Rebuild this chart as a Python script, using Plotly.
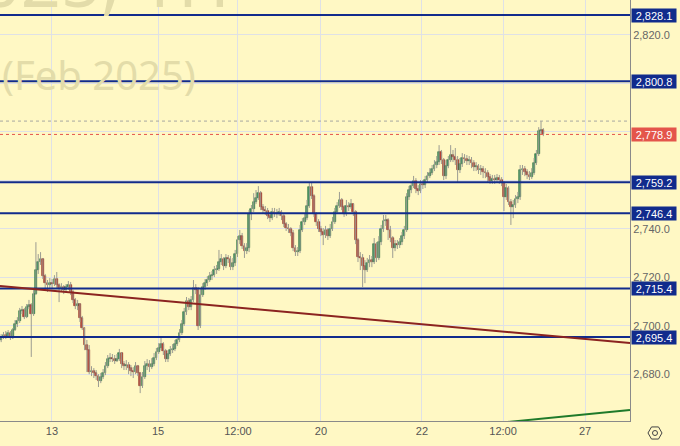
import math
import plotly.graph_objects as go

# ---------------- data (hourly bars) ----------------
first_open = 2694.2
close = [
    2695.4, 2696.2, 2695.8, 2697.0, 2695.0, 2698.3, 2700.8, 2702.0, 2706.1, 2706.5,
    2703.6, 2707.8, 2708.6, 2704.9, 2713.1, 2723.0, 2726.3, 2727.5, 2720.5, 2717.6,
    2716.8, 2717.6, 2717.2, 2719.3, 2716.8, 2715.6, 2716.0, 2714.8, 2716.0, 2716.8,
    2714.0, 2710.7, 2708.2, 2709.0, 2703.2, 2699.1, 2692.1, 2690.0, 2681.0, 2681.4,
    2680.6, 2679.3, 2677.3, 2678.9, 2680.6, 2683.4, 2686.3, 2686.7, 2686.3, 2685.5,
    2686.3, 2688.8, 2684.3, 2683.4, 2683.9, 2682.6, 2681.4, 2681.0, 2683.4, 2680.6,
    2675.2, 2678.9, 2683.4, 2684.3, 2683.0, 2684.3, 2686.7, 2689.2, 2690.9, 2692.5,
    2689.6, 2686.3, 2688.4, 2690.0, 2690.5, 2692.5, 2694.2, 2697.0, 2700.8, 2705.7,
    2710.2, 2707.8, 2710.7, 2715.6, 2714.8, 2699.9, 2712.7, 2716.0, 2717.6, 2718.9,
    2720.5, 2720.9, 2723.0, 2723.4, 2726.3, 2727.5, 2724.7, 2727.9, 2727.5, 2724.2,
    2725.9, 2729.6, 2735.4, 2737.0, 2732.9, 2730.8, 2732.1, 2746.1, 2748.2, 2751.0,
    2752.7, 2754.7, 2749.0, 2747.7, 2747.3, 2745.3, 2744.4, 2746.9, 2746.5, 2746.1,
    2746.9, 2745.3, 2742.0, 2740.3, 2739.9, 2738.3, 2732.1, 2730.4, 2730.8, 2739.5,
    2742.8, 2744.4, 2749.4, 2757.2, 2753.5, 2746.1, 2742.8, 2739.9, 2738.7, 2737.4,
    2739.5, 2737.0, 2739.9, 2742.8, 2746.9, 2749.4, 2751.9, 2749.0, 2746.1, 2749.4,
    2749.0, 2750.2, 2746.9, 2735.4, 2728.4, 2727.9, 2724.7, 2723.0, 2725.9, 2727.1,
    2726.3, 2733.7, 2727.9, 2734.5, 2739.9, 2743.2, 2743.6, 2739.5, 2736.2, 2732.1,
    2733.7, 2733.3, 2734.5, 2737.0, 2739.5, 2753.1, 2756.0, 2757.6, 2759.7, 2756.4,
    2755.6, 2758.5, 2758.0, 2760.1, 2761.7, 2763.0, 2764.6, 2766.3, 2767.5, 2771.6,
    2768.3, 2761.7, 2765.9, 2768.3, 2770.4, 2769.6, 2768.3, 2764.2, 2766.7, 2769.2,
    2768.8, 2767.9, 2768.3, 2767.1, 2765.5, 2765.9, 2764.2, 2764.6, 2763.4, 2763.0,
    2761.3, 2759.7, 2760.5, 2760.1, 2760.9, 2760.1, 2758.9, 2753.1, 2756.8, 2751.0,
    2749.0, 2749.8, 2752.3, 2753.1, 2764.2, 2764.6, 2763.4, 2762.2, 2761.3, 2763.0,
    2767.1, 2770.8, 2780.3, 2780.7, 2778.9,
]
high = [
    2696.6, 2697.5, 2697.9, 2698.3, 2697.9, 2699.1, 2702.4, 2703.6, 2707.4, 2708.2,
    2707.4, 2709.0, 2710.7, 2709.4, 2714.8, 2734.5, 2729.6, 2730.4, 2728.0, 2721.4,
    2718.9, 2719.7, 2719.3, 2720.9, 2722.2, 2717.6, 2717.6, 2716.8, 2717.2, 2718.5,
    2718.1, 2714.8, 2711.5, 2710.7, 2709.4, 2704.1, 2699.5, 2694.2, 2692.1, 2683.4,
    2682.6, 2681.8, 2680.1, 2680.6, 2682.2, 2685.1, 2688.0, 2688.8, 2688.4, 2688.0,
    2688.4, 2690.5, 2689.2, 2685.5, 2685.9, 2685.1, 2683.9, 2683.0, 2685.1, 2683.9,
    2681.0, 2681.0, 2685.5, 2686.3, 2685.9, 2686.7, 2688.8, 2690.9, 2692.9, 2695.0,
    2693.3, 2690.5, 2690.0, 2691.7, 2692.5, 2694.2, 2695.8, 2698.7, 2702.4, 2707.4,
    2711.9, 2711.5, 2712.3, 2718.9, 2717.2, 2716.0, 2715.2, 2717.6, 2719.3, 2720.5,
    2722.2, 2722.6, 2724.7, 2725.1, 2731.3, 2729.6, 2728.3, 2729.6, 2729.2, 2728.8,
    2728.0, 2731.3, 2737.0, 2739.5, 2738.3, 2734.1, 2734.1, 2747.7, 2749.8, 2754.7,
    2756.0, 2757.6, 2755.6, 2750.2, 2749.4, 2748.6, 2746.9, 2748.6, 2748.6, 2748.2,
    2748.6, 2747.7, 2746.1, 2742.8, 2742.0, 2740.7, 2739.5, 2733.3, 2732.5, 2741.6,
    2744.4, 2746.5, 2751.9, 2758.9, 2758.9, 2754.3, 2746.9, 2744.0, 2741.2, 2740.3,
    2741.2, 2740.3, 2742.0, 2744.9, 2748.6, 2751.0, 2755.2, 2752.7, 2749.8, 2751.9,
    2751.0, 2752.3, 2750.6, 2747.7, 2736.2, 2730.4, 2729.6, 2727.1, 2728.0, 2729.2,
    2728.8, 2736.2, 2734.5, 2737.0, 2741.6, 2745.7, 2745.7, 2744.4, 2741.2, 2737.0,
    2735.4, 2735.4, 2736.2, 2738.7, 2741.2, 2754.7, 2757.6, 2759.3, 2761.8, 2760.9,
    2758.0, 2760.1, 2760.1, 2761.8, 2763.4, 2765.0, 2766.3, 2768.3, 2770.0, 2774.5,
    2772.5, 2769.2, 2768.3, 2770.0, 2774.5, 2772.5, 2773.3, 2770.0, 2769.2, 2771.2,
    2770.8, 2770.4, 2770.0, 2769.6, 2768.3, 2767.5, 2766.7, 2766.3, 2765.9, 2765.0,
    2764.2, 2762.6, 2762.2, 2762.2, 2762.6, 2762.2, 2761.3, 2759.7, 2758.5, 2757.6,
    2752.3, 2751.9, 2753.9, 2755.2, 2766.3, 2766.3, 2765.9, 2764.6, 2763.8, 2765.0,
    2769.2, 2772.5, 2781.9, 2784.4, 2781.5,
]
low = [
    2693.3, 2694.6, 2694.6, 2695.4, 2694.2, 2694.6, 2697.9, 2699.5, 2701.2, 2704.9,
    2702.8, 2703.2, 2706.9, 2687.2, 2704.1, 2712.7, 2721.4, 2725.1, 2719.3, 2714.8,
    2714.0, 2715.2, 2715.6, 2716.4, 2715.6, 2709.8, 2714.0, 2713.1, 2714.0, 2714.8,
    2712.7, 2709.4, 2706.9, 2706.5, 2701.6, 2698.3, 2690.0, 2681.0, 2680.1, 2679.3,
    2678.5, 2677.7, 2674.8, 2676.4, 2678.1, 2679.7, 2682.6, 2685.1, 2685.1, 2684.3,
    2685.1, 2685.5, 2682.6, 2681.8, 2681.8, 2680.1, 2679.3, 2678.5, 2680.1, 2679.3,
    2672.3, 2674.4, 2678.1, 2681.8, 2681.0, 2682.2, 2683.4, 2685.9, 2688.4, 2690.0,
    2688.0, 2685.1, 2685.1, 2687.6, 2688.8, 2689.6, 2691.7, 2693.3, 2696.2, 2700.0,
    2704.5, 2706.5, 2706.5, 2709.8, 2713.1, 2698.3, 2699.1, 2711.9, 2714.8, 2716.4,
    2718.1, 2718.9, 2720.1, 2721.4, 2722.6, 2725.1, 2723.0, 2723.8, 2725.9, 2723.0,
    2723.0, 2724.7, 2728.4, 2733.7, 2731.7, 2728.0, 2729.6, 2730.4, 2743.6, 2746.9,
    2750.2, 2751.9, 2747.7, 2746.1, 2745.7, 2744.0, 2742.8, 2743.6, 2744.9, 2744.4,
    2745.3, 2743.6, 2740.7, 2739.1, 2738.3, 2737.0, 2730.8, 2728.8, 2728.8, 2730.0,
    2738.7, 2741.6, 2743.6, 2748.6, 2752.3, 2744.9, 2741.2, 2738.7, 2737.0, 2733.3,
    2736.2, 2735.4, 2736.2, 2739.1, 2742.0, 2746.1, 2748.6, 2747.7, 2744.9, 2745.3,
    2747.3, 2748.2, 2745.3, 2733.7, 2726.3, 2723.0, 2716.0, 2717.6, 2722.2, 2724.2,
    2724.2, 2725.5, 2726.3, 2727.1, 2733.3, 2738.7, 2741.2, 2735.4, 2734.5, 2728.0,
    2730.8, 2731.7, 2732.1, 2733.3, 2735.8, 2738.7, 2751.9, 2754.7, 2756.8, 2754.7,
    2753.9, 2754.7, 2756.4, 2756.8, 2759.3, 2760.9, 2762.2, 2763.8, 2765.0, 2766.3,
    2766.7, 2760.1, 2760.5, 2765.0, 2767.5, 2767.5, 2766.3, 2759.3, 2763.0, 2765.5,
    2767.1, 2766.3, 2766.3, 2765.0, 2763.8, 2763.8, 2762.6, 2762.2, 2760.9, 2760.9,
    2759.3, 2758.5, 2758.5, 2758.5, 2758.9, 2758.5, 2757.6, 2747.3, 2751.9, 2749.8,
    2741.6, 2744.4, 2748.6, 2750.6, 2751.9, 2762.2, 2761.7, 2760.5, 2760.1, 2760.5,
    2762.2, 2766.3, 2770.0, 2778.7, 2778.2,
]

levels = [2828.1, 2800.8, 2759.2, 2746.4, 2715.4, 2695.4]
last_price = 2778.9
session_high = 2784.4
red_trend = [2716.4, 2692.9]     # price at left / right edge of the pane
green_trend = [2659.6, 2665.3]   # price at its start / right edge

x_tick_text = ["13", "15", "12:00", "20", "22", "12:00", "27"]
x_tick_pos = [21.9, 67.7, 102.2, 138.0, 181.6, 216.6, 252.0]
y_grid = [2680, 2700, 2720, 2740, 2760, 2780, 2800, 2820]
y_labelled = [2680, 2700, 2720, 2740, 2820]   # others are hidden behind price tags

title_line1 = "GCG2025, 1H"
title_line2 = "(Feb 2025)"

# ---------------- styling ----------------
BG = "#fff8c4"
GRID = "#dfe1e6"
NAVY = "#112b8c"
RED_LBL = "#e4554b"
FONT = "Noto Sans"
LBL_FONT = "Liberation Sans"
X_MIN, X_MAX = -0.5, 271.4
Y_MIN, Y_MAX = 2660.8, 2834.3
GREEN_START = 210

n = min(len(close), len(high), len(low))
idx = list(range(n))
opens = [first_open] + close[:n - 1]
hi = [max(high[i], opens[i], close[i]) for i in idx]
lo = [min(low[i], opens[i], close[i]) for i in idx]

fig = go.Figure()

# wicks
wx, wy = [], []
for i in idx:
    wx += [i, i, None]
    wy += [lo[i], hi[i], None]
fig.add_trace(go.Scatter(x=wx, y=wy, mode="lines",
                         line=dict(color="#9c9c92", width=1),
                         hoverinfo="skip", showlegend=False))

# bodies
base = [min(opens[i], close[i]) for i in idx]
height = [max(abs(close[i] - opens[i]), 0.25) for i in idx]
up = [close[i] >= opens[i] for i in idx]
fig.add_trace(go.Bar(
    x=idx, y=height, base=base, width=0.78,
    marker=dict(color=["#3a955e" if u else "#c4392c" for u in up],
                line=dict(color=["#1b6234" if u else "#7d1d14" for u in up], width=0.6)),
    showlegend=False, hoverinfo="skip"))

shapes = []
shapes.append(dict(type="line", xref="x", yref="y", x0=X_MIN, x1=X_MAX,
                   y0=session_high, y1=session_high,
                   line=dict(color="#a8a8a0", width=1, dash="dot")))
shapes.append(dict(type="line", xref="x", yref="y", x0=X_MIN, x1=X_MAX,
                   y0=last_price, y1=last_price,
                   line=dict(color="#e4554b", width=1, dash="dot")))
for v in levels:
    shapes.append(dict(type="line", xref="x", yref="y", x0=X_MIN, x1=X_MAX,
                       y0=v, y1=v, line=dict(color=NAVY, width=2)))
shapes.append(dict(type="line", xref="x", yref="y", x0=X_MIN, x1=X_MAX,
                   y0=red_trend[0], y1=red_trend[1],
                   line=dict(color="#8b2320", width=2)))
shapes.append(dict(type="line", xref="x", yref="y", x0=GREEN_START, x1=X_MAX,
                   y0=green_trend[0], y1=green_trend[1],
                   line=dict(color="#1f7a2a", width=2)))

# settings (gear) icon in the bottom-right corner
cx, cy, r = 655 / 630, (421 - 433) / 421, 7
pts = []
for k in range(6):
    a = math.radians(60 * k)
    pts.append((cx + r * math.cos(a) / 630, cy + r * math.sin(a) / 421))
path = "M " + " L ".join(f"{px:.5f},{py:.5f}" for px, py in pts) + " Z"
shapes.append(dict(type="path", xref="paper", yref="paper", path=path,
                   line=dict(color="#444", width=1)))
shapes.append(dict(type="circle", xref="paper", yref="paper",
                   x0=cx - 2.5 / 630, x1=cx + 2.5 / 630,
                   y0=cy - 2.5 / 421, y1=cy + 2.5 / 421,
                   line=dict(color="#444", width=1)))

annotations = []
annotations.append(dict(text=title_line1, xref="paper", yref="paper",
                        x=232 / 630, y=(421 - 30) / 421, xanchor="right", yanchor="bottom",
                        showarrow=False, font=dict(family=FONT, size=70, color="#e3dca9")))
annotations.append(dict(text=title_line2, xref="paper", yref="paper",
                        x=0, y=(421 - 74) / 421, xanchor="left", yanchor="middle",
                        showarrow=False, font=dict(family=FONT, size=40, color="#e3dca9")))
for v in levels:
    annotations.append(dict(text=f"{v:,.1f}", xref="paper", yref="y", x=1, y=v,
                            xanchor="left", yanchor="middle", xshift=1, showarrow=False,
                            bgcolor=NAVY, width=44, height=13, borderpad=0,
                            font=dict(family=LBL_FONT, size=11, color="white")))
annotations.append(dict(text=f"{last_price:,.1f}", xref="paper", yref="y", x=1, y=last_price,
                        xanchor="left", yanchor="middle", xshift=1, showarrow=False,
                        bgcolor=RED_LBL, width=44, height=13, borderpad=0,
                        font=dict(family=LBL_FONT, size=11, color="white")))

y_ticktext = [f"{v:,.1f}" if v in y_labelled else "" for v in y_grid]

fig.update_layout(
    width=680, height=446,
    margin=dict(l=0, r=50, t=0, b=25),
    paper_bgcolor=BG, plot_bgcolor=BG,
    shapes=shapes, annotations=annotations,
    showlegend=False, bargap=0,
    xaxis=dict(range=[X_MIN, X_MAX], tickvals=x_tick_pos, ticktext=x_tick_text,
               showgrid=True, gridcolor=GRID, gridwidth=1, zeroline=False,
               showline=True, linecolor="#8a8a8a", linewidth=1, ticks="",
               tickfont=dict(family=LBL_FONT, size=11, color="#555555"), fixedrange=True),
    yaxis=dict(range=[Y_MIN, Y_MAX], side="right", tickvals=y_grid, ticktext=y_ticktext,
               showgrid=True, gridcolor=GRID, gridwidth=1, zeroline=False,
               showline=True, linecolor="#8a8a8a", linewidth=1, ticks="",
               tickfont=dict(family=LBL_FONT, size=11, color="#666666"), fixedrange=True),
)

fig.write_html("out.html", config={"displayModeBar": False},
               post_script="document.body.style.margin='0';document.body.style.overflow='hidden';")
